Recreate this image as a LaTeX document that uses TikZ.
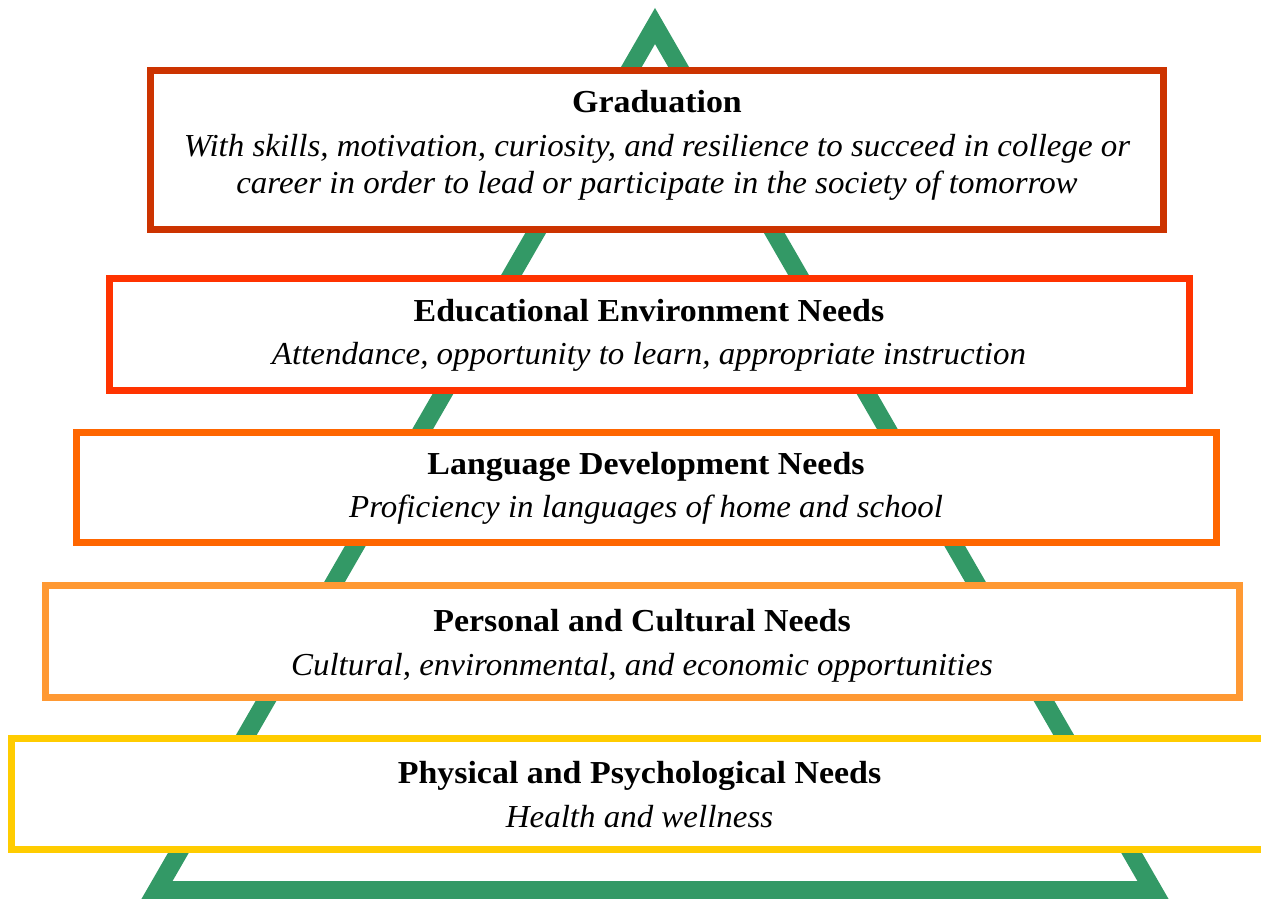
\documentclass[tikz,border=0pt]{standalone}
\usepackage{fontspec}
\setmainfont{Liberation Serif}
\newfontfamily\titlefont[FakeStretch=1.06]{Liberation Serif}
\newfontfamily\descfont[FakeStretch=1.03]{Liberation Serif}
\definecolor{tri}{HTML}{339966}
\definecolor{cA}{HTML}{CC3300}
\definecolor{cB}{HTML}{FF3300}
\definecolor{cC}{HTML}{FF6600}
\definecolor{cD}{HTML}{FF9933}
\definecolor{cE}{HTML}{FFCC00}
\tikzset{
  levelbox/.style={draw=#1, line width=7pt, fill=white, rectangle, inner sep=0pt, outer sep=0pt},
  titletext/.style={anchor=base, inner sep=0pt, font=\titlefont\fontsize{32}{38}\selectfont\bfseries},
  desctext/.style={anchor=base, inner sep=0pt, font=\descfont\fontsize{32}{38}\selectfont\itshape},
}
\begin{document}
\begin{tikzpicture}[x=1pt, y=-1pt]
\useasboundingbox (0,0) rectangle (1261,898);
% triangle
\coordinate (apex) at (655,26);
\coordinate (bl) at (157,890);
\coordinate (br) at (1153,890);
\draw[tri, line width=18pt, miter limit=10, line join=miter] (apex) -- (br) -- (bl) -- cycle;
% boxes
\node[levelbox=cA, minimum width=1013pt, minimum height=159pt] (grad) at (657,150) {};
\node[levelbox=cB, minimum width=1080pt, minimum height=112pt] (edu) at (649,334.5) {};
\node[levelbox=cC, minimum width=1140.5pt, minimum height=109.5pt] (lang) at (646.25,487.25) {};
\node[levelbox=cD, minimum width=1194pt, minimum height=111.5pt] (pers) at (642.5,641.25) {};
\node[levelbox=cE, minimum width=1256pt, minimum height=111pt] (phys) at (639.5,794) {};
% texts
\node[titletext] (gradT) at (657,112) {Graduation};
\node[desctext] (gradD1) at (657,156) {With skills, motivation, curiosity, and resilience to succeed in college or};
\node[desctext] (gradD2) at (657,193) {career in order to lead or participate in the society of tomorrow};
\node[titletext] (eduT) at (649,321) {Educational Environment Needs};
\node[desctext] (eduD) at (649,364) {Attendance, opportunity to learn, appropriate instruction};
\node[titletext] (langT) at (646,474) {Language Development Needs};
\node[desctext] (langD) at (646,517) {Proficiency in languages of home and school};
\node[titletext] (persT) at (642,631) {Personal and Cultural Needs};
\node[desctext] (persD) at (642,675) {Cultural, environmental, and economic opportunities};
\node[titletext] (physT) at (639.5,783) {Physical and Psychological Needs};
\node[desctext] (physD) at (639.5,827) {Health and wellness};
\end{tikzpicture}
\end{document}
